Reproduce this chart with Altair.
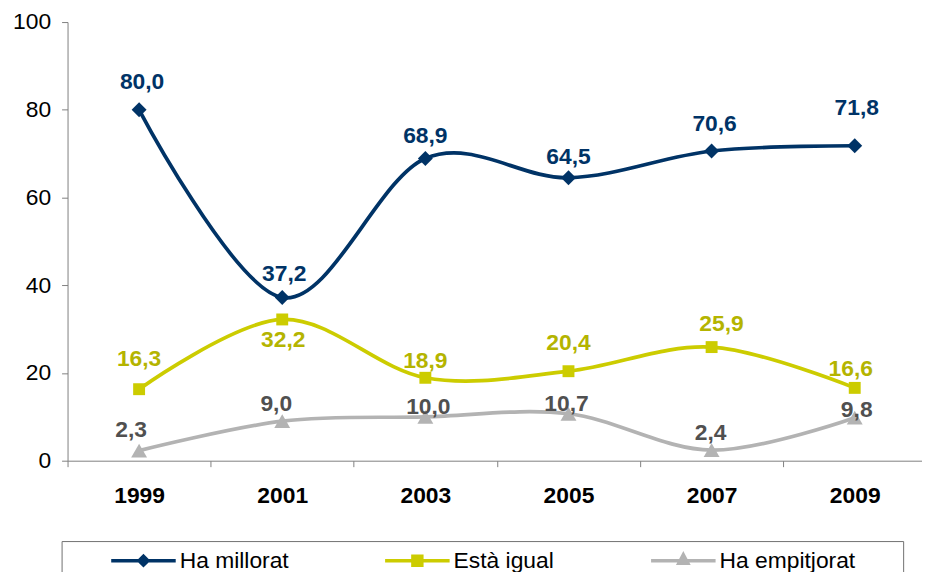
import altair as alt
import pandas as pd

# ---------------- data ----------------
years = [1999, 2001, 2003, 2005, 2007, 2009]
series_names = ["Ha millorat", "Està igual", "Ha empitjorat"]
ha_millorat = [80.0, 37.2, 68.9, 64.5, 70.6, 71.8]
esta_igual = [16.3, 32.2, 18.9, 20.4, 25.9, 16.6]
ha_empitjorat = [2.3, 9.0, 10.0, 10.7, 2.4, 9.8]
y_ticks = [0, 20, 40, 60, 80, 100]
x_tick_years = list(range(1998, 2010))

# ---------------- styling ----------------
FONT = "Liberation Sans"
AXIS_GRAY = "#808080"
line_colors = ["#003366", "#cccc00", "#b3b3b3"]
label_colors = ["#003366", "#b4b400", "#505050"]
marker_shapes = ["diamond", "square", "triangle-up"]
marker_sizes = [225, 144, 256]

# label placement: pixel offsets of each value label from its point
label_dx = [[3, 2, 0, 0, 3, 2], [0, 1, 0, 0, 10, -4], [-8, -6, 3, -2, -1, 2]]
label_dy = [[-28, -24, -23, -21, -27, -38], [-30, 21, -17, -28, -23, -19], [-21, -17, -10, -10, -17, -8]]

# legend symbols: line with marker (custom paths, 1 unit = 1 px)
legend_line = "M-11.5,0M30.5,0L95.5,0"
legend_symbols = [
    legend_line + "M63,-4.5L67.5,0L63,4.5L58.5,0Z",
    legend_line + "M58.5,-4.5L67.5,-4.5L67.5,4.5L58.5,4.5Z",
    legend_line + "M63,-6L67.5,2.5L58.5,2.5ZM269.5,0",
]

values_by_series = [ha_millorat, esta_igual, ha_empitjorat]
rows = []
for si, name in enumerate(series_names):
    for yi, yr in enumerate(years):
        v = values_by_series[si][yi]
        rows.append({
            "year": yr,
            "series": name,
            "value": v,
            "label": f"{v:.1f}".replace(".", ","),
            "dx": label_dx[si][yi],
            "dy": label_dy[si][yi],
        })
df = pd.DataFrame(rows)

x_enc = alt.X(
    "year:Q",
    scale=alt.Scale(domain=[1998, 2009.94], nice=False, zero=False),
    axis=alt.Axis(
        title=None, values=x_tick_years, grid=False,
        domainColor=AXIS_GRAY, tickColor=AXIS_GRAY, tickSize=6, tickWidth=1,
        tickOpacity={"condition": {"test": "datum.value % 2 == 0", "value": 1}, "value": 0},
        labelExpr="datum.value % 2 == 1 ? toString(datum.value) : ''",
        labelFont=FONT, labelFontSize=23, labelFontWeight="bold", labelColor="#000000",
        labelPadding=18, labelFlush=False, labelOverlap=False,
    ),
)
y_enc = alt.Y(
    "value:Q",
    scale=alt.Scale(domain=[0, 100], nice=False, zero=True),
    axis=alt.Axis(
        title=None, values=y_ticks, grid=False,
        domainColor=AXIS_GRAY, tickColor=AXIS_GRAY, tickSize=6, tickWidth=1,
        labelFont=FONT, labelFontSize=23, labelColor="#000000",
        labelPadding=11, labelFlush=False, labelOverlap=False,
    ),
)

base = alt.Chart(df).encode(x=x_enc, y=y_enc)

lines = base.mark_line(interpolate="cardinal", strokeWidth=3.75).encode(
    color=alt.Color("series:N", scale=alt.Scale(domain=series_names, range=line_colors), legend=None),
    detail="series:N",
)

markers = []
labels = []
for i, name in enumerate(series_names):
    sub = base.transform_filter(alt.datum.series == name)
    markers.append(
        sub.mark_point(filled=True, opacity=1, shape=marker_shapes[i],
                       size=marker_sizes[i], color=line_colors[i])
    )
    labels.append(
        sub.mark_text(font=FONT, fontSize=23, fontWeight="bold", baseline="middle",
                      align="center", color=label_colors[i],
                      dx={"expr": "datum.dx"}, dy={"expr": "datum.dy"})
        .encode(text="label:N")
    )

legend_def = alt.Legend(
    title=None, orient="none", legendX=-6, legendY=523, direction="horizontal",
    symbolSize=4, symbolStrokeWidth=3.5, symbolOpacity=1,
    labelFont=FONT, labelFontSize=23, labelColor="#000000", labelOffset=88, labelLimit=400,
    columnPadding=48, padding=8, strokeColor="#707070", fillColor="#ffffff",
)
# invisible layer that only carries the legend (line + marker symbols)
legend_layer = base.mark_point(
    filled=True, strokeWidth=3.5, fillOpacity=0, strokeOpacity=0
).encode(
    fill=alt.Fill("series:N", scale=alt.Scale(domain=series_names, range=line_colors), legend=legend_def),
    stroke=alt.Stroke("series:N", scale=alt.Scale(domain=series_names, range=line_colors), legend=legend_def),
    shape=alt.Shape("series:N", scale=alt.Scale(domain=series_names, range=legend_symbols), legend=legend_def),
)

chart = alt.layer(legend_layer, lines, *markers, *labels).properties(
    width=861,
    height=442,
    autosize=alt.AutoSizeParams(type="none"),
    padding={"left": 60, "top": 12, "right": 0, "bottom": 110},
).configure_view(stroke=None)

chart.save("out.html", embed_options={"renderer": "svg", "actions": False})
